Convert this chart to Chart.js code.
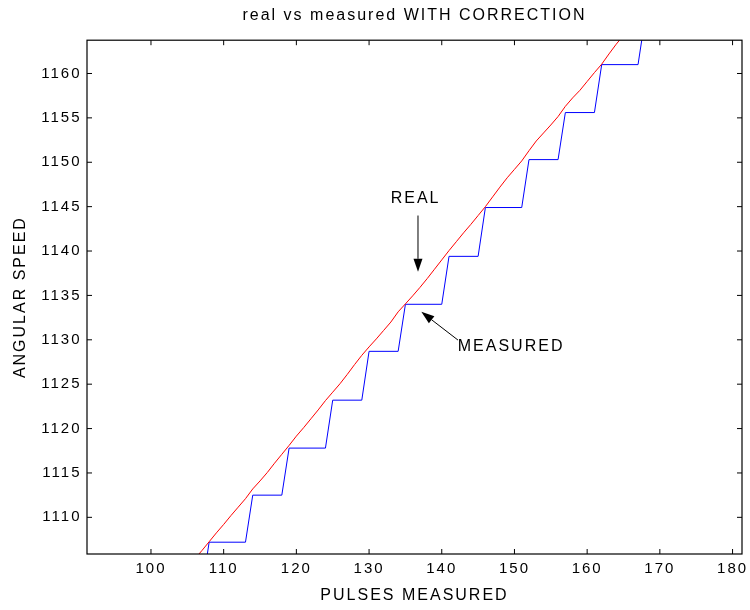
<!DOCTYPE html>
<html><head><meta charset="utf-8">
<script src="https://cdn.jsdelivr.net/npm/chart.js@4.4.1/dist/chart.umd.min.js"></script>
<style>html,body{margin:0;padding:0;background:#fff;} canvas{display:block;}</style>
</head><body>
<canvas id="c" width="750" height="610"></canvas>
<script>
// ---- data ----
const realX = [106,107,108,109,110,111,112,113,114,115,116,117,118,119,120,121,122,123,124,125,126,127,128,129,130,131,132,133,134,135,136,137,138,139,140,141,142,143,144,145,146,147,148,149,150,151,152,153,154,155,156,157,158,159,160,161,162,163,164,165];
const realY = [1105.3,1106.25,1107.25,1108.25,1109.2,1110.2,1111.15,1112.1,1113.2,1114.1,1115.05,1116.1,1117.1,1118.1,1119.15,1120.1,1121.1,1122.1,1123.15,1124.1,1125.05,1126.1,1127.2,1128.25,1129.2,1130.1,1131.05,1132.0,1133.15,1134.05,1134.95,1135.9,1136.9,1137.95,1139.0,1140.05,1141.05,1142.05,1143.0,1144.0,1145.0,1146.1,1147.2,1148.25,1149.2,1150.15,1151.3,1152.4,1153.3,1154.2,1155.15,1156.3,1157.25,1158.1,1159.1,1160.1,1161.05,1162.2,1163.3,1164.3];
const measuredX = [107,108,113,114,118,119,124,125,129,130,134,135,140,141,145,146,151,152,156,157,161,162,167,168];
const measuredY = [1101.8,1107.2,1107.2,1112.5,1112.5,1117.8,1117.8,1123.2,1123.2,1128.7,1128.7,1134.0,1134.0,1139.4,1139.4,1144.9,1144.9,1150.3,1150.3,1155.6,1155.6,1161.0,1161.0,1166.4];
const xTicks = [100,110,120,130,140,150,160,170,180];
const yTicks = [1110,1115,1120,1125,1130,1135,1140,1145,1150,1155,1160];
const titleText = 'real vs measured WITH CORRECTION';
const xLabel = 'PULSES MEASURED';
const yLabel = 'ANGULAR SPEED';
const realLabel = 'REAL';
const measuredLabel = 'MEASURED';

const FONT = 'Liberation Sans, Arial, Helvetica, sans-serif';
const SPACING = '2px';

const spacingPlugin = {
  id: 'spacing',
  beforeInit(c){ c.ctx.letterSpacing = SPACING; },
  beforeUpdate(c){ c.ctx.letterSpacing = SPACING; },
  beforeLayout(c){ c.ctx.letterSpacing = SPACING; },
  beforeDraw(c){ c.ctx.letterSpacing = SPACING; }
};

const framePlugin = {
  id: 'frame',
  afterDraw(c){
    const {ctx, chartArea:a, scales} = c;
    const xs = scales.x, ys = scales.y;
    ctx.save();
    ctx.strokeStyle = '#000';
    ctx.lineWidth = 1.2;
    ctx.strokeRect(a.left, a.top, a.right - a.left, a.bottom - a.top);
    ctx.lineWidth = 1;
    const L = 5;
    ctx.beginPath();
    xTicks.forEach(v => {
      const p = xs.getPixelForValue(v);
      ctx.moveTo(p, a.bottom); ctx.lineTo(p, a.bottom - L);
      ctx.moveTo(p, a.top); ctx.lineTo(p, a.top + L);
    });
    yTicks.forEach(v => {
      const p = ys.getPixelForValue(v);
      ctx.moveTo(a.left, p); ctx.lineTo(a.left + L, p);
      ctx.moveTo(a.right, p); ctx.lineTo(a.right - L, p);
    });
    ctx.stroke();
    ctx.restore();
  }
};

function arrow(ctx, x1, y1, x2, y2){
  const ang = Math.atan2(y2 - y1, x2 - x1);
  const hl = 13, hw = 4.5;
  const bx = x2 - hl * Math.cos(ang), by = y2 - hl * Math.sin(ang);
  ctx.beginPath();
  ctx.moveTo(x1, y1); ctx.lineTo(bx, by);
  ctx.stroke();
  ctx.beginPath();
  ctx.moveTo(x2, y2);
  ctx.lineTo(bx + hw * Math.sin(ang), by - hw * Math.cos(ang));
  ctx.lineTo(bx - hw * Math.sin(ang), by + hw * Math.cos(ang));
  ctx.closePath();
  ctx.fill();
}

const annotPlugin = {
  id: 'annot',
  afterDatasetsDraw(c){
    const {ctx, scales} = c;
    const X = v => scales.x.getPixelForValue(v), Y = v => scales.y.getPixelForValue(v);
    ctx.save();
    ctx.letterSpacing = SPACING;
    ctx.fillStyle = '#000'; ctx.strokeStyle = '#000'; ctx.lineWidth = 1;
    ctx.font = '16px ' + FONT;
    ctx.textBaseline = 'middle';
    ctx.textAlign = 'center';
    ctx.fillText(realLabel, X(136.4), Y(1145.9));
    arrow(ctx, X(136.73), Y(1144.0), X(136.73), Y(1137.66));
    ctx.textAlign = 'left';
    ctx.fillText(measuredLabel, X(142.2), Y(1129.2));
    arrow(ctx, X(142.23), Y(1129.97), X(137.19), Y(1133.15));
    ctx.restore();
  }
};

new Chart(document.getElementById('c'), {
  type: 'line',
  data: {
    datasets: [
      { label: 'real', data: realX.map((x,i)=>({x, y: realY[i]})), borderColor: '#ff0000', borderWidth: 1, pointRadius: 0, tension: 0, fill: false },
      { label: 'measured', data: measuredX.map((x,i)=>({x, y: measuredY[i]})), borderColor: '#0000ff', borderWidth: 1, pointRadius: 0, tension: 0, fill: false }
    ]
  },
  options: {
    responsive: false,
    animation: false,
    devicePixelRatio: 1,
    layout: { padding: { left: 0, right: 8, top: 0, bottom: 0 } },
    plugins: {
      legend: { display: false },
      tooltip: { enabled: false },
      title: { display: true, fullSize: false, text: titleText, color: '#000', font: { family: FONT, size: 16, weight: 'normal' }, padding: { top: 6, bottom: 15 } }
    },
    scales: {
      x: {
        type: 'linear', min: 91.2, max: 181.3,
        grid: { display: false, drawTicks: false },
        border: { display: false },
        afterBuildTicks: s => { s.ticks = xTicks.map(v => ({value: v})); },
        afterFit: s => { s.height = 56; s.paddingLeft = 0; s.paddingRight = 0; },
        ticks: { color: '#000', font: { family: FONT, size: 15 }, padding: 6, maxRotation: 0, autoSkip: false, callback: v => String(v) },
        title: { display: true, text: xLabel, color: '#000', font: { family: FONT, size: 16 }, padding: { top: 0, bottom: 4.4 } }
      },
      y: {
        type: 'linear', min: 1105.87, max: 1163.75,
        grid: { display: false, drawTicks: false },
        border: { display: false },
        afterBuildTicks: s => { s.ticks = yTicks.map(v => ({value: v})); },
        afterFit: s => { s.width = 87; s.paddingTop = 0; s.paddingBottom = 0; },
        ticks: { color: '#000', font: { family: FONT, size: 15 }, padding: 5.5, autoSkip: false, callback: v => String(v) },
        title: { display: true, text: yLabel, color: '#000', font: { family: FONT, size: 16 }, padding: { top: 11.4, bottom: 0 } }
      }
    }
  },
  plugins: [spacingPlugin, framePlugin, annotPlugin]
});
</script>
</body></html>
